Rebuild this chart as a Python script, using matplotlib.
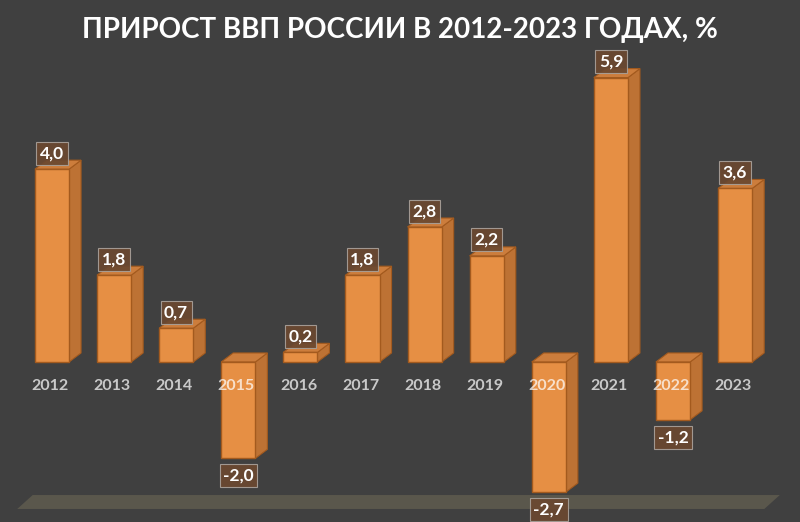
import matplotlib
matplotlib.use('Agg')
import matplotlib.pyplot as plt
from matplotlib.patches import Polygon

# data
years = ['2012', '2013', '2014', '2015', '2016', '2017', '2018', '2019', '2020', '2021', '2022', '2023']
growth = [4.0, 1.8, 0.7, -2.0, 0.2, 1.8, 2.8, 2.2, -2.7, 5.9, -1.2, 3.6]
title = 'ПРИРОСТ ВВП РОССИИ В 2012-2023 ГОДАХ, %'

bg = '#404040'
front = '#e68f44'
side = '#bd7234'
top = '#cc7d3c'
edge = '#a35a1e'

plt.rcParams['font.family'] = ['Lato', 'Noto Sans', 'DejaVu Sans']

fig = plt.figure(figsize=(8, 5.22), dpi=100, facecolor=bg)
ax = fig.add_axes([0, 0, 1, 1])
ax.set_facecolor(bg)
ax.set_xlim(-0.837, 12.045)
ax.set_ylim(-3.32, 7.51)
ax.axis('off')

n = len(years)
x = list(range(n))
w = 0.55
dx, dy = 0.193, 0.187

# floor of the 3d chart
floor = Polygon([(-0.56, -3.05), (-0.31, -2.76), (n - 0.28, -2.76), (n - 0.53, -3.05)],
                closed=True, facecolor='#5a574c', edgecolor='none', zorder=1)
ax.add_patch(floor)

# front faces
ax.bar(x, growth, width=w, color=front, edgecolor=edge, linewidth=1, zorder=3)

# side and top faces
for i, v in enumerate(growth):
    l, r = i - w / 2, i + w / 2
    hi = max(v, 0)
    lo = min(v, 0)
    ax.add_patch(Polygon([(r, lo), (r + dx, lo + dy), (r + dx, hi + dy), (r, hi)],
                         closed=True, facecolor=side, edgecolor=edge, linewidth=0.8, zorder=2))
    ax.add_patch(Polygon([(l, hi), (l + dx, hi + dy), (r + dx, hi + dy), (r, hi)],
                         closed=True, facecolor=top, edgecolor=edge, linewidth=0.8, zorder=2))

# year labels
for i, yr in enumerate(years):
    ax.text(i - 0.03, -0.5, yr, ha='center', va='center', fontsize=11.5, fontweight='bold',
            color='white', alpha=0.72, zorder=5)

# value labels
for i, v in enumerate(growth):
    off = 11.5 if v >= 0 else -12.5
    ax.annotate(f'{v:.1f}'.replace('.', ','), (i, v), xytext=(0, off), textcoords='offset points',
                ha='center', va='center', fontsize=12.5, fontweight='bold', color='white', zorder=6,
                bbox=dict(boxstyle='square,pad=0.2', facecolor='#6b4830', alpha=0.92,
                          edgecolor='#a8a099', linewidth=0.8))

fig.text(0.5, 0.942, title, ha='center', va='center', fontsize=20, fontweight='bold', color='white')

plt.savefig('out.png', dpi=100, facecolor=bg)
